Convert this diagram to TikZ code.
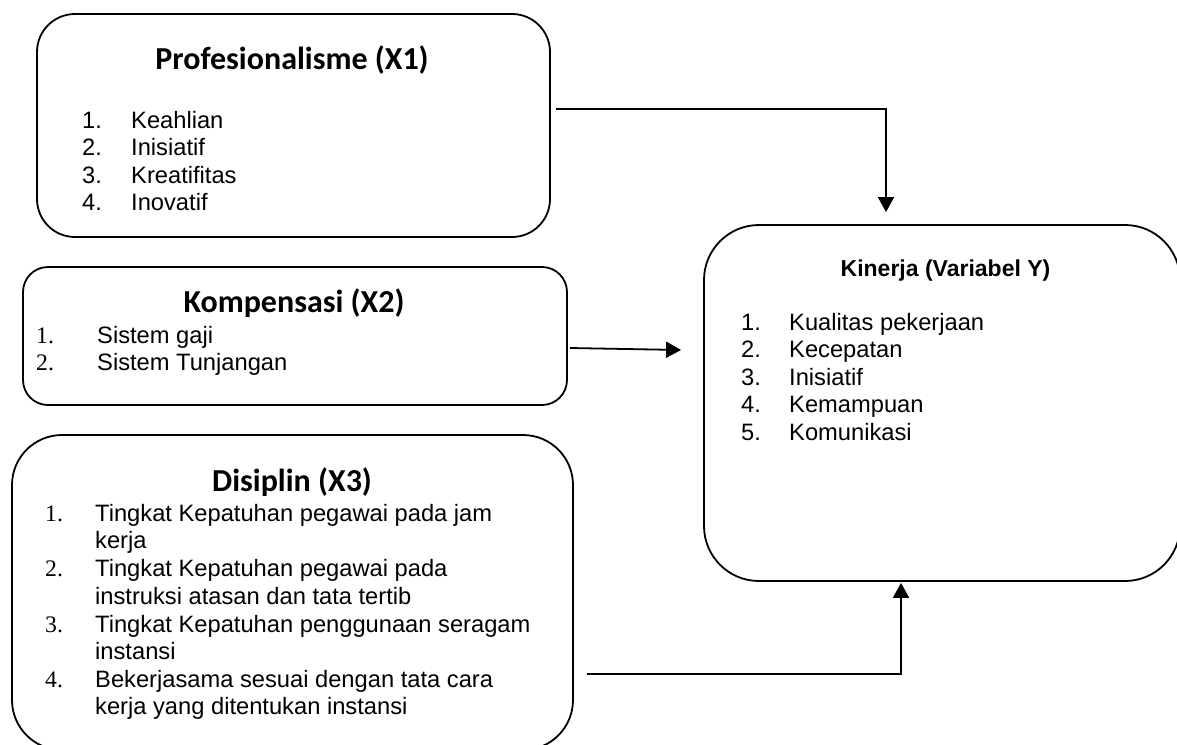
\documentclass[tikz,border=0pt]{standalone}
\usepackage{fontspec}
\setmainfont{Liberation Sans}
\newfontfamily\tnrfont{Liberation Serif}
\newfontfamily\calfont{Carlito}
\usetikzlibrary{arrows.meta}
\tikzset{
  box/.style={draw, line width=1.8pt, inner sep=0pt},
  ttl/.style={anchor=base, inner sep=0pt, font=\calfont\bfseries\fontsize{32}{36}\selectfont},
  ttly/.style={anchor=base, inner sep=0pt, font=\bfseries\fontsize{23}{27}\selectfont},
  itm/.style={anchor=base west, inner sep=0pt, font=\fontsize{23.7}{27.5}\selectfont},
  num/.style={anchor=base west, inner sep=0pt, font=\fontsize{23.7}{27.5}\selectfont},
  numt/.style={anchor=base west, inner sep=0pt, font=\tnrfont\fontsize{23.7}{27.5}\selectfont},
  arr/.style={line width=1.8pt, -{Triangle[width=16pt,length=15pt]}}
}
\begin{document}
\begin{tikzpicture}[x=1pt,y=-1pt]
\useasboundingbox (0,0) rectangle (1177,744);
\clip (0,0) rectangle (1177,744);
% boxes
\node[box, rounded corners=38pt, minimum width=513pt, minimum height=223pt] (x1) at (293.5,125.5) {};
\node[box, rounded corners=25pt, minimum width=544pt, minimum height=138pt] (x2) at (295,336) {};
\node[box, rounded corners=50pt, minimum width=561pt, minimum height=315pt] (x3) at (292.5,592.5) {};
\node[box, rounded corners=55pt, minimum width=476pt, minimum height=356pt] (y) at (942,403) {};
% X1
\node[ttl] (t1) at (292,69) {Profesionalisme (X1)};
\node[num] (n11) at (82,128) {1.};  \node[itm] (i11) at (131,128) {Keahlian};
\node[num] (n12) at (82,155.5) {2.};\node[itm] (i12) at (131,155.5) {Inisiatif};
\node[num] (n13) at (82,183) {3.};  \node[itm] (i13) at (131,183) {Kreatifitas};
\node[num] (n14) at (82,210) {4.};  \node[itm] (i14) at (131,210) {Inovatif};
% X2
\node[ttl] (t2) at (294,312) {Kompensasi (X2)};
\node[numt] (n21) at (36,343) {1.}; \node[itm] (i21) at (97,343) {Sistem gaji};
\node[numt] (n22) at (36,370) {2.}; \node[itm] (i22) at (97,370) {Sistem Tunjangan};
% X3
\node[ttl] (t3) at (292,491) {Disiplin (X3)};
\node[numt] (n31) at (45,521) {1.}; \node[itm] (i31a) at (95,521) {Tingkat Kepatuhan pegawai pada jam};
\node[itm] (i31b) at (95,548.5) {kerja};
\node[numt] (n32) at (45,576.5) {2.}; \node[itm] (i32a) at (95,576.5) {Tingkat Kepatuhan pegawai pada};
\node[itm] (i32b) at (95,604) {instruksi atasan dan tata tertib};
\node[numt] (n33) at (45,632) {3.}; \node[itm] (i33a) at (95,632) {Tingkat Kepatuhan penggunaan seragam};
\node[itm] (i33b) at (95,659) {instansi};
\node[numt] (n34) at (45,687) {4.}; \node[itm] (i34a) at (95,687) {Bekerjasama sesuai dengan tata cara};
\node[itm] (i34b) at (95,714) {kerja yang ditentukan instansi};
% Y
\node[ttly] (ty) at (945.5,276) {Kinerja (Variabel Y)};
\node[num] (ny1) at (741,330) {1.};  \node[itm] (iy1) at (789,330) {Kualitas pekerjaan};
\node[num] (ny2) at (741,357.5) {2.};\node[itm] (iy2) at (789,357.5) {Kecepatan};
\node[num] (ny3) at (741,385) {3.};  \node[itm] (iy3) at (789,385) {Inisiatif};
\node[num] (ny4) at (741,412.5) {4.};\node[itm] (iy4) at (789,412.5) {Kemampuan};
\node[num] (ny5) at (741,440) {5.};  \node[itm] (iy5) at (789,440) {Komunikasi};
% connectors
\draw[arr] ([xshift=5pt,yshift=16.5pt]x1.east) -| ([xshift=-56pt,yshift=12pt]y.north);
\draw[arr] ([xshift=2pt,yshift=-12pt]x2.east) -- ([xshift=-22pt,yshift=53pt]y.west);
\draw[arr] ([xshift=13pt,yshift=-81.5pt]x3.east) -| ([xshift=-41pt,yshift=-1pt]y.south);
\end{tikzpicture}
\end{document}
